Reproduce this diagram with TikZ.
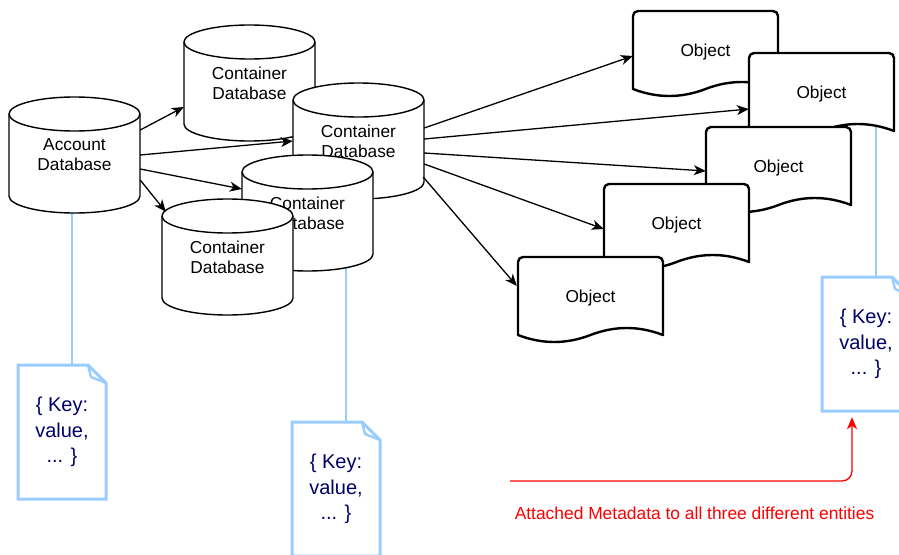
\documentclass[tikz,border=0pt]{standalone}
\usepackage{fontspec}
\setmainfont{Liberation Sans}
\usetikzlibrary{arrows.meta,calc}
\definecolor{metablue}{HTML}{99CCFF}
\definecolor{keynavy}{HTML}{000066}
\definecolor{notered}{HTML}{FF0000}
\pgfdeclarelayer{bg}
\pgfsetlayers{bg,main}

% database cylinder: name, left, top, label
\newcommand\dbcyl[4]{%
  \path[dbshape] (#2,#3+17) -- (#2,#3+99)
    arc[start angle=180,end angle=0,x radius=65.5,y radius=17]
    -- (#2+131,#3+17)
    arc[start angle=0,end angle=-180,x radius=65.5,y radius=17] -- cycle;
  \draw[dbline] (#2,#3+17) arc[start angle=180,end angle=0,x radius=65.5,y radius=17];
  \node[dbtext] (#1) at (#2+65.5,#3+58) {#4};
}
% document shape with wavy bottom: name, left, top
\newcommand\objdoc[3]{%
  \path[objshape] (#2,#3+78) -- (#2,#3+5)
    arc[start angle=180,end angle=270,radius=5] -- (#2+140,#3)
    arc[start angle=270,end angle=360,radius=5] -- (#2+145,#3+78)
    .. controls (#2+120.83,#3+68.67) and (#2+96.67,#3+68.67) .. (#2+72.5,#3+78)
    .. controls (#2+48.33,#3+87.33) and (#2+24.17,#3+87.33) .. (#2,#3+78) -- cycle;
  \node[objtext] (#1) at (#2+72.5,#3+41) {Object};
}
% metadata note with folded corner: name, left, top
\newcommand\metanote[3]{%
  \path[noteshape] (#2,#3) -- (#2+70,#3) -- (#2+88,#3+18) -- (#2+88,#3+134)
    -- (#2,#3+134) -- cycle;
  \draw[notefold] (#2+70,#3) -- (#2+73,#3+12) -- (#2+88,#3+18);
  \node[notetext] (#1) at (#2+44,#3+67) {\{ Key:\\value,\\... \}};
}

\begin{document}
\begin{tikzpicture}[x=1pt,y=-1pt,
  dbshape/.style={draw=black,fill=white,line width=1.4pt},
  dbline/.style={draw=black,line width=1.4pt},
  dbtext/.style={inner sep=0pt,minimum width=131pt,minimum height=116pt,align=center,
    font=\fontsize{17.3}{20}\selectfont},
  objshape/.style={draw=black,fill=white,line width=2.4pt,line join=round},
  objtext/.style={inner sep=0pt,minimum width=145pt,minimum height=80pt,
    font=\fontsize{17.3}{20}\selectfont},
  noteshape/.style={draw=metablue,fill=white,line width=3pt,line join=miter},
  notefold/.style={draw=metablue,line width=2.4pt,line join=round},
  notetext/.style={inner sep=0pt,minimum width=88pt,minimum height=134pt,align=center,
    text=keynavy,font=\fontsize{20}{25.5}\selectfont},
  arr/.style={draw=black,line width=1.3pt,-{Stealth[length=12pt,width=10pt,inset=3.5pt]}},
  metalink/.style={draw=metablue,line width=1.4pt},
  redarr/.style={draw=notered,line width=1.3pt,rounded corners=10pt,
    -{Stealth[length=12pt,width=10pt,inset=3.5pt]}},
  redtext/.style={text=notered,inner sep=0pt,font=\fontsize{17.4}{20}\selectfont}]
\useasboundingbox (0,0) rectangle (899,554);
\clip (0,0) rectangle (899,554);

% databases
\dbcyl{acc}{9}{97}{Account\\Database}
\dbcyl{c1}{184}{25}{Container\\Database}
\dbcyl{c2}{293}{83}{Container\\Database}
\dbcyl{c3}{242}{155}{Container\\Database}
\dbcyl{c4}{162}{199}{Container\\Database}

% objects
\objdoc{o1}{633}{11}
\objdoc{o2}{749}{53}
\objdoc{o3}{706}{127}
\objdoc{o4}{604}{184}
\objdoc{o5}{518}{257}

% metadata notes
\metanote{n1}{18}{365}
\metanote{n2}{292}{422}
\metanote{n3}{822}{277}

% account -> containers
\draw[arr] ([yshift=25pt]acc.east) -- ([yshift=-24pt]c1.west);
\draw[arr] (acc.east) -- (c2.west);
\draw[arr] ([yshift=-14pt]acc.east) -- ([yshift=24pt]c3.west);
\draw[arr] ([yshift=-25pt]acc.east) -- ([xshift=4pt,yshift=-13pt]c4.north west);

% container -> objects
\draw[arr] ([yshift=13pt]c2.east) -- ([yshift=-4pt]o1.west);
\draw[arr] ([yshift=2pt]c2.east) -- ([yshift=-15pt]o2.west);
\draw[arr] ([yshift=-12pt]c2.east) -- ([yshift=-3pt]o3.west);
\draw[arr] ([yshift=-23pt]c2.east) -- ([yshift=-4pt]o4.west);
\draw[arr] ([xshift=-1pt,yshift=-36pt]c2.east) -- ([xshift=-1pt,yshift=12pt]o5.west);

% metadata attachments
\begin{pgfonlayer}{bg}
\draw[metalink] ([xshift=-2.5pt]acc.center) -- ([xshift=-2.5pt]acc.center |- n1.north);
\draw[metalink] ([xshift=38.5pt]c3.center) -- ([xshift=38.5pt]c3.center |- n2.north);
\draw[metalink] ([xshift=54.5pt]o2.center) -- ([xshift=54.5pt]o2.center |- n3.north);
\end{pgfonlayer}

% annotation
\coordinate (rstart) at (510,481);
\draw[redarr,shorten >=6pt] (rstart) -| ([xshift=-14pt]n3.south);
\node[redtext] (caption) at (694.5,513) {Attached Metadata to all three different entities};
\end{tikzpicture}
\end{document}
